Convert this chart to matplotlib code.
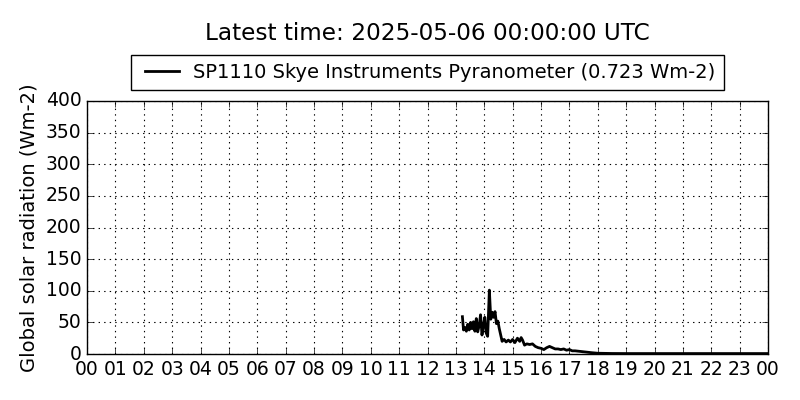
import matplotlib
matplotlib.use("Agg")
import matplotlib.pyplot as plt

plt.style.use('classic')

hours = [13.23, 13.27, 13.32, 13.37, 13.42, 13.47, 13.52, 13.57, 13.62, 13.67,
         13.72, 13.77, 13.82, 13.87, 13.92, 13.97, 14.02, 14.07, 14.12, 14.18,
         14.23, 14.28, 14.33, 14.38, 14.43, 14.48, 14.53, 14.58, 14.63, 14.70,
         14.77, 14.85, 14.92, 15.00, 15.08, 15.17, 15.25, 15.30, 15.35, 15.42,
         15.50, 15.60, 15.70, 15.80, 15.90, 16.00, 16.10, 16.20, 16.30, 16.40,
         16.50, 16.60, 16.70, 16.80, 16.90, 17.00, 17.10, 17.20, 17.40, 17.60,
         17.80, 18.00, 18.50, 19.00, 20.00, 21.00, 22.00, 23.00, 24.00]
values = [59, 38, 42, 36, 47, 38, 50, 40, 51, 36,
          56, 35, 45, 62, 30, 45, 58, 33, 28, 101,
          55, 66, 58, 67, 48, 52, 40, 30, 20, 23,
          19, 22, 19, 23, 18, 25, 20, 26, 22, 14,
          16, 15, 16, 12, 10, 9, 7, 10, 12, 10,
          8, 8, 7, 8, 6, 7, 5, 5, 4, 3,
          2, 1.2, 0.8, 0.7, 0.7, 0.7, 0.7, 0.7, 0.7]

tick_hours = list(range(0, 25))
tick_labels = ["%02d" % (h % 24) for h in tick_hours]

title = "Latest time: 2025-05-06 00:00:00 UTC"
series_label = "SP1110 Skye Instruments Pyranometer (0.723 Wm-2)"
ylabel = "Global solar radiation (Wm-2)"

fig = plt.figure(figsize=(8, 4), dpi=100, facecolor='white')
ax = fig.add_axes([0.10875, 0.115, 0.85125, 0.6325])
ax.plot(hours, values, color='black', linewidth=2, label=series_label)
ax.set_xlim(0, 24)
ax.set_ylim(0, 400)
ax.set_xticks(tick_hours)
ax.set_xticklabels(tick_labels, fontsize=13.5)
ax.set_yticks(range(0, 401, 50))
ax.tick_params(axis='y', labelsize=13.5)
ax.tick_params(direction='in', top=True, right=True)
ax.grid(True, linestyle=':', color='black', linewidth=0.8)
ax.set_ylabel(ylabel, fontsize=14)
leg = ax.legend(loc='lower center', bbox_to_anchor=(0.5, 1.043), fontsize=14,
                fancybox=False, frameon=True, borderaxespad=0, handlelength=2.3,
                handletextpad=0.45, borderpad=0.42)
leg.get_frame().set_edgecolor('black')
fig.text(0.534, 1 - 34 / 400, title, ha='center', va='center', fontsize=16.7)
fig.savefig('out.png', dpi=100, facecolor='white')
